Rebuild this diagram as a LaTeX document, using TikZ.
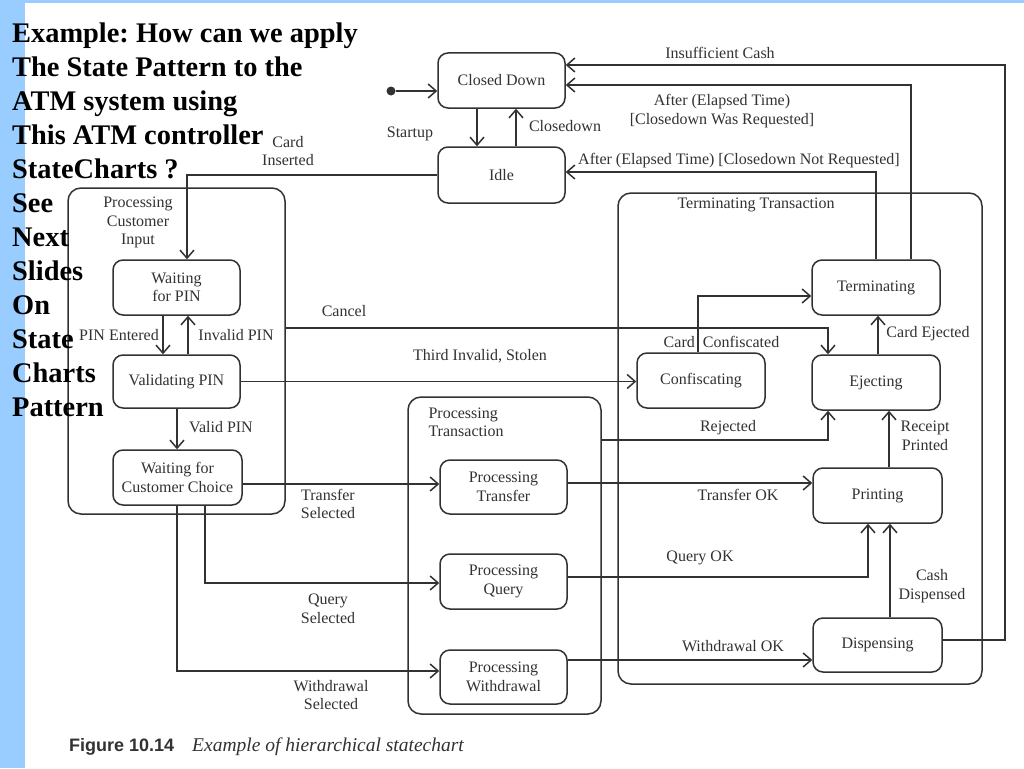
\documentclass[tikz,border=0pt]{standalone}
\usepackage{fontspec}
\setmainfont{Liberation Serif}
\newfontfamily\capsans{Liberation Sans}
\usetikzlibrary{arrows.meta}
\definecolor{ink}{RGB}{50,50,50}
\definecolor{slideblue}{RGB}{153,204,255}
\frenchspacing
\begin{document}
\begin{tikzpicture}[x=1pt,y=-1pt,
  every node/.style={text=ink, font=\fontsize{16}{18.5}\selectfont},
  st/.style={draw=ink, line width=1.5pt, rounded corners=10pt, align=center, inner sep=0pt},
  comp/.style={draw=ink, line width=1.5pt, rounded corners=13pt, inner sep=0pt},
  lbl/.style={align=center, inner sep=0pt},
  arr/.style={draw=ink, line width=1.5pt, -{Straight Barb[length=8pt,width=14pt]}},
  ttl/.style={anchor=base west, inner sep=0pt, text=black, font=\bfseries\fontsize{28.4}{34}\selectfont},
]
\useasboundingbox (0,0) rectangle (1024,768);
\fill[white] (0,0) rectangle (1024,768);
\fill[slideblue] (0,0) rectangle (25,768);
\fill[slideblue] (0,0) rectangle (1024,3);

% composite states
\node[comp, minimum width=217pt, minimum height=326pt] (pci) at (176.5,351) {};
\node[comp, minimum width=193pt, minimum height=317pt] (ptx) at (504.5,555.5) {};
\node[comp, minimum width=364pt, minimum height=491pt] (ttx) at (800,438.5) {};

% simple states
\node[st, minimum width=127pt, minimum height=55pt] (closed) at (501.5,80.5) {Closed Down};
\node[st, minimum width=127pt, minimum height=56pt] (idle) at (501.5,175) {Idle};
\node[st, minimum width=127pt, minimum height=55pt] (wpin) at (176.5,287.5) {Waiting\\for PIN};
\node[st, minimum width=127pt, minimum height=53pt] (valpin) at (176.5,381.5) {Validating PIN};
\node[st, minimum width=129pt, minimum height=55pt] (wcc) at (177.5,477.5) {Waiting for\\Customer Choice};
\node[st, minimum width=128pt, minimum height=55pt] (confisc) at (701,380.5) {Confiscating};
\node[st, minimum width=128pt, minimum height=55pt] (term) at (876,287.5) {Terminating};
\node[st, minimum width=128pt, minimum height=55pt] (eject) at (876,382.5) {Ejecting};
\node[st, minimum width=127pt, minimum height=54pt] (ptrans) at (503.5,487) {Processing\\Transfer};
\node[st, minimum width=127pt, minimum height=55pt] (pquery) at (503.5,581.5) {Processing\\Query};
\node[st, minimum width=127pt, minimum height=54pt] (pwith) at (503.5,677) {Processing\\Withdrawal};
\node[st, minimum width=129pt, minimum height=55pt] (print) at (877.5,495.5) {Printing};
\node[st, minimum width=129pt, minimum height=54pt] (disp) at (877.5,645) {Dispensing};

\node[circle, fill=ink, inner sep=0pt, minimum size=9pt] (init) at (391,91) {};

% transitions
\draw[arr] (init) -- (closed.west |- init);
\draw[arr] (477,0 |- closed.south) -- (477,0 |- idle.north);
\draw[arr] (516,0 |- idle.north) -- (516,0 |- closed.south);
\draw[arr] (idle.west) -- (187,0 |- idle.west) -- (187,0 |- wpin.north);
\draw[arr] (163,0 |- wpin.south) -- (163,0 |- valpin.north);
\draw[arr] (188,0 |- valpin.north) -- (188,0 |- wpin.south);
\draw[arr] (177,0 |- valpin.south) -- (177,0 |- wcc.north);
\draw[arr] (pci.east |- 0,328) -- (828,328) -- (828,0 |- eject.north);
\draw[arr] (valpin.east) -- (confisc.west |- valpin.east);
\draw[arr] (698,0 |- confisc.north) -- (698,296) -- (term.west |- 0,296);
\draw[arr] (878,0 |- eject.north) -- (878,0 |- term.south);
\draw[arr] (ptx.east |- 0,440) -- (828,440) -- (828,0 |- eject.south);
\draw[arr] (889,0 |- print.north) -- (889,0 |- eject.south);
\draw[arr] (wcc.east |- 0,484) -- (ptrans.west |- 0,484);
\draw[arr] (ptrans.east |- 0,483) -- (print.west |- 0,483);
\draw[arr] (205,0 |- wcc.south) -- (205,583) -- (pquery.west |- 0,583);
\draw[arr] (177,0 |- wcc.south) -- (177,671) -- (pwith.west |- 0,671);
\draw[arr] (pquery.east |- 0,577) -- (868,577) -- (868,0 |- print.south);
\draw[arr] (890,0 |- disp.north) -- (890,0 |- print.south);
\draw[arr] (pwith.east |- 0,660) -- (disp.west |- 0,660);
\draw[arr] (disp.east |- 0,640) -- (1005,640) -- (1005,65) -- (closed.east |- 0,65);
\draw[arr] (911,0 |- term.north) -- (911,85) -- (closed.east |- 0,85);
\draw[arr] (876,0 |- term.north) -- (876,172) -- (idle.east |- 0,172);

% labels
\node[lbl] (lstartup) at (410,134) {Startup};
\node[lbl] (lclosedown) at (565,126) {Closedown};
\node[lbl] (lcard) at (288,151) {Card\\Inserted};
\node[lbl] (linsuff) at (720,53) {Insufficient Cash};
\node[lbl] (lwasreq) at (722,111) {After (Elapsed Time)\\{}[Closedown Was Requested]};
\node[lbl] (lnotreq) at (739,161) {After (Elapsed Time) [Closedown Not Requested]};
\node[lbl] (lttx) at (756,205) {Terminating Transaction};
\node[lbl] (lpci) at (138,222.5) {Processing\\Customer\\Input};
\node[lbl] (lpinent) at (119,335) {PIN Entered};
\node[lbl] (linvpin) at (236,335) {Invalid PIN};
\node[lbl] (lvalpin) at (221,427) {Valid PIN};
\node[lbl] (lcancel) at (344,311) {Cancel};
\node[lbl] (lthird) at (480,356) {Third Invalid, Stolen};
\node[lbl] (lconf) at (721.5,342) {Card\enspace Confiscated};
\node[lbl] (lejected) at (928,334) {Card Ejected};
\node[lbl] (lrejected) at (728,428) {Rejected};
\node[lbl] (lreceipt) at (925,436) {Receipt\\Printed};
\node[lbl, align=left] (lptx) at (466,422.5) {Processing\\Transaction};
\node[lbl] (ltrsel) at (328,504) {Transfer\\Selected};
\node[lbl] (lqsel) at (328,609) {Query\\Selected};
\node[lbl] (lwsel) at (331,695) {Withdrawal\\Selected};
\node[lbl] (ltrok) at (738,495) {Transfer OK};
\node[lbl] (lqok) at (700,558) {Query OK};
\node[lbl] (lcash) at (932,586) {Cash\\Dispensed};
\node[lbl] (lwok) at (733,646) {Withdrawal OK};

% caption
\node[anchor=base west, inner sep=0pt, font=\capsans\bfseries\fontsize{18}{20}\selectfont] (figno) at (69,751) {Figure 10.14};
\node[anchor=base west, inner sep=0pt, font=\itshape\fontsize{19.5}{22}\selectfont] (figcap) at (192,751) {Example of hierarchical statechart};

% slide title text
\foreach \t [count=\i] in {Example: How can we apply, The State Pattern to the, ATM system using, This ATM controller, StateCharts ?, See, Next, Slides, On, State, Charts, Pattern}
  \node[ttl] (title\i) at (12,{42+34*(\i-1)}) {\t};
\end{tikzpicture}
\end{document}
